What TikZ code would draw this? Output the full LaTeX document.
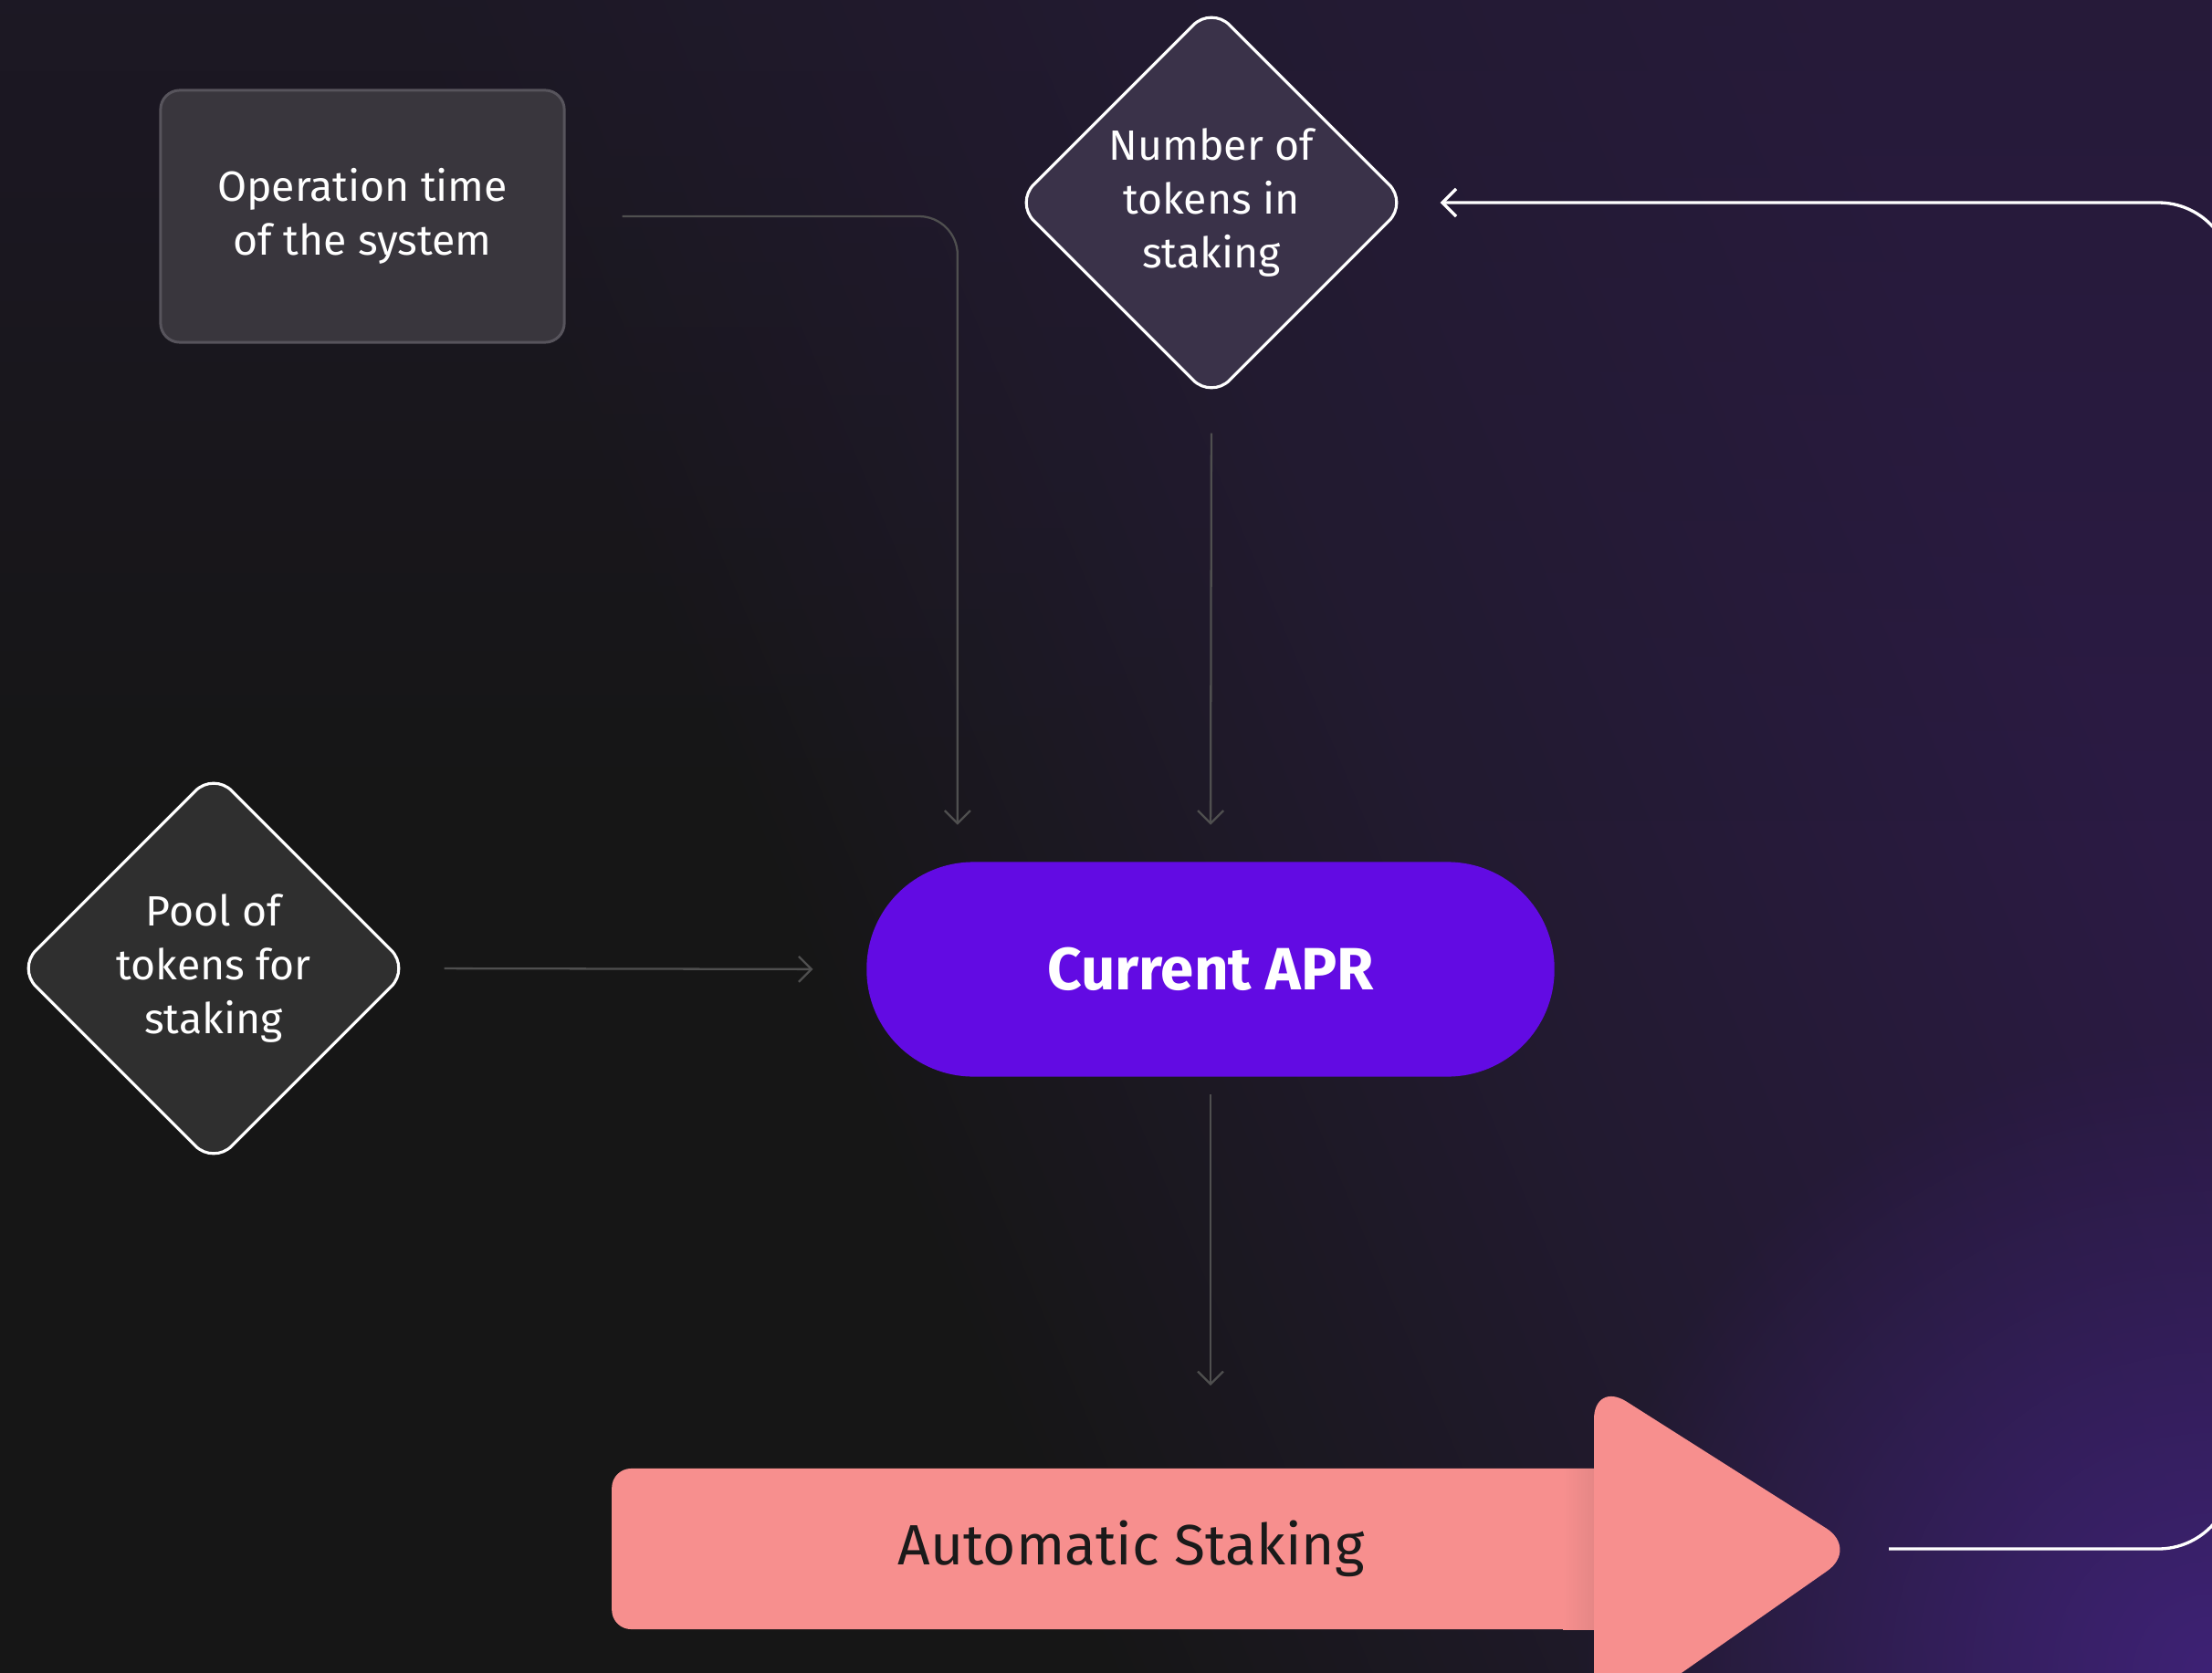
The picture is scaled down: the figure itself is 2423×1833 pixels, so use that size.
\documentclass[tikz,border=0pt]{standalone}
\usepackage{fontspec}
\setmainfont{Fira Sans}
\usetikzlibrary{shapes.geometric, arrows.meta, fadings}

\definecolor{bgdark}{HTML}{161616}
\definecolor{bgmid}{HTML}{221A30}
\definecolor{bgpurple}{HTML}{2B1A44}
\definecolor{glow}{HTML}{3E2275}
\definecolor{boxfill}{HTML}{39363D}
\definecolor{boxline}{HTML}{57545C}
\definecolor{numfill}{HTML}{3A3249}
\definecolor{poolfill}{HTML}{2F2F2F}
\definecolor{aprfill}{HTML}{620BE3}
\definecolor{stakefill}{HTML}{F78F8E}
\definecolor{stakeshadow}{HTML}{E58786}
\definecolor{staketext}{HTML}{1A1A1A}
\definecolor{linkgray}{HTML}{4F4F4F}

\pgfdeclarehorizontalshading{bgwash}{100bp}{color(0bp)=(bgdark); color(42bp)=(bgdark); color(58bp)=(bgmid); color(74bp)=(bgpurple); color(100bp)=(bgpurple)}
\tikzfading[name=glowfade, inner color=transparent!0, outer color=transparent!100]
\tikzfading[name=fadedown, top color=transparent!0, bottom color=transparent!100]

\tikzset{
  label text/.style={font=\fontsize{13.2}{16.8}\selectfont, text=white, align=center},
  infobox/.style={label text, draw=boxline, fill=boxfill, line width=0.85pt, rounded corners=6pt, minimum width=4.42cm, minimum height=2.76cm},
  decision/.style={label text, diamond, draw=white, line width=0.9pt, rounded corners=8pt, minimum width=4.3cm, minimum height=4.3cm, inner sep=0pt},
  aprpill/.style={fill=aprfill, rounded corners=1.17cm, minimum width=7.53cm, minimum height=2.35cm, text=white, font=\bfseries\fontsize{18.6}{22}\selectfont},
  stakebody/.style={fill=stakefill, rounded corners=6pt, minimum width=11cm, minimum height=1.76cm},
  link/.style={draw=linkgray, line width=0.65pt, -{Straight Barb[length=1.4mm, width=2.8mm]}},
  feedback/.style={draw=white, line width=0.95pt, -{Straight Barb[length=1.5mm, width=3mm]}},
}

\begin{document}
\begin{tikzpicture}[x=0.01cm, y=-0.01cm]
  % background
  \useasboundingbox (0,0) rectangle (2423,1833);
  \clip (0,0) rectangle (2423,1833);
  \shade[shading=bgwash, shading angle=23] (0,0) rectangle (2423,1833);
  \fill[bgmid, opacity=0.55, path fading=fadedown] (0,0) rectangle (2423,900);
  \fill[glow, path fading=glowfade] (2423,1833) circle (7cm);

  % inputs
  \node[infobox] (optime) at (397,237) {Operation time\\of the system};
  \node[decision, fill=numfill] (staked) at (1327,222) {Number of\\tokens in\\staking};
  \node[decision, fill=poolfill] (pool) at (234,1061) {Pool of\\tokens for\\staking};

  % result
  \node[aprpill] (apr) at (1326,1062) {Current APR};

  % big arrow
  \node[stakebody] (stake) at (1220.5,1697) {};
  \shade[left color=stakefill, right color=stakeshadow] (1712,1609) rectangle (1746,1785);
  \fill[stakefill, rounded corners=12pt] (1746,1900) -- (1746,1513) -- (2036,1697) -- cycle;
  \coordinate (tip) at (2017,1697);
  \node[font=\fontsize{17.7}{20}\selectfont, text=staketext] (staketext) at (1239,1697) {Automatic Staking};

  % connectors
  \draw[link, rounded corners=12pt, shorten <=0.62cm, shorten >=0.4cm] (optime.east) -| ([xshift=-2.77cm]apr.north);
  \draw[link, shorten <=0.36cm, shorten >=0.4cm] (staked.south) -- (apr.north);
  \draw[link, shorten <=0.36cm, shorten >=0.58cm] (pool.east) -- (apr.west);
  \draw[link, shorten <=0.19cm, shorten >=0.9cm] (apr.south) -- (apr.south |- stake.north);
  \draw[feedback, rounded corners=23pt, shorten >=0.34cm] ([xshift=0.52cm]tip) -- (2445,1697) -- (2445,222) -- (staked.east);
\end{tikzpicture}
\end{document}
